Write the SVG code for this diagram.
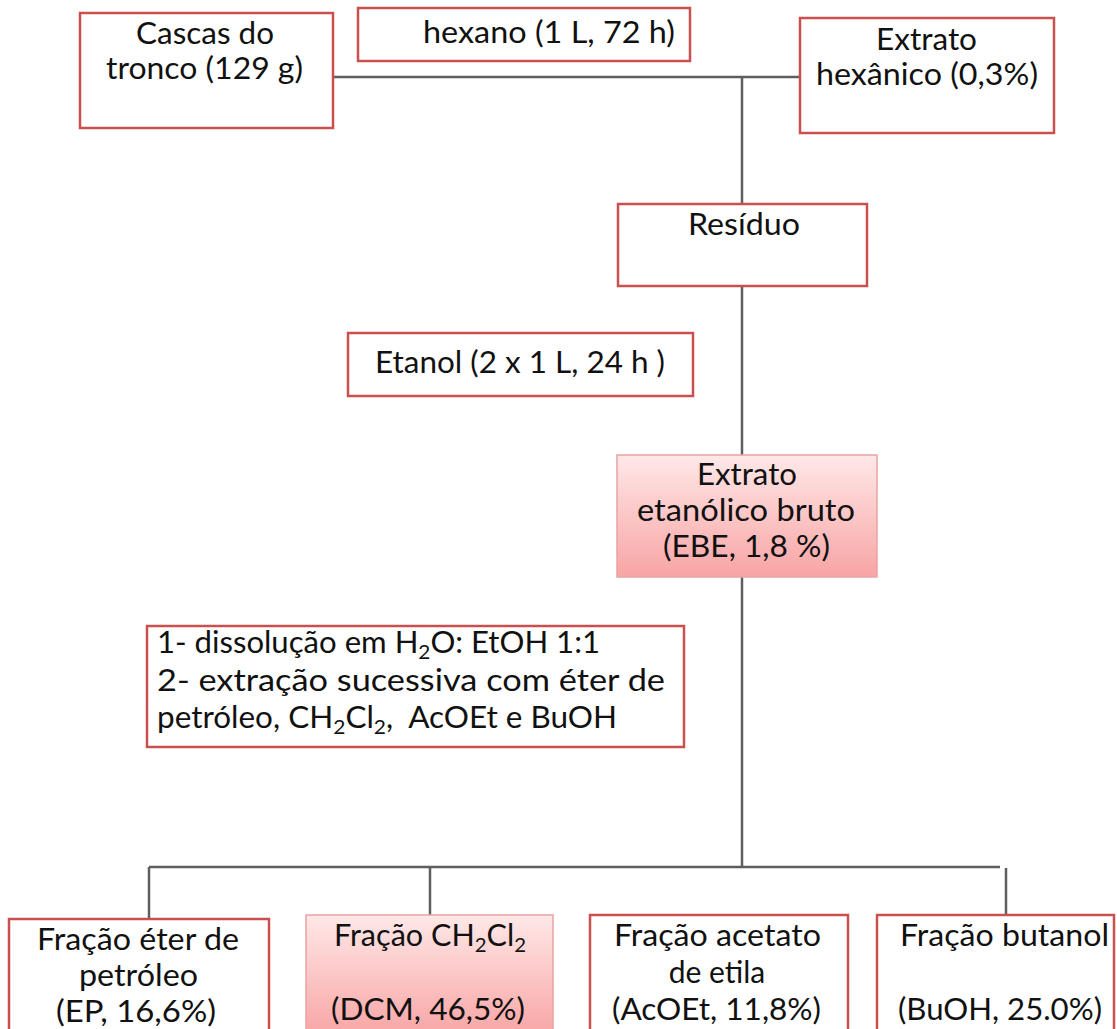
<svg xmlns="http://www.w3.org/2000/svg" width="1117" height="1029" viewBox="0 0 1117 1029">
<style>
.box{fill:#ffffff;stroke:#C9504F;stroke-width:2.5}
.gbox{fill:url(#pink);stroke:#E9A3A3;stroke-width:1.5}
.t{font-family:Lato,"Open Sans","Liberation Sans",sans-serif;font-size:30px;fill:#111111}
.c{stroke:#5E5E5E;stroke-width:2.5;fill:none}
.sub{font-size:20px}
</style>
<defs>
<linearGradient id="pink" x1="0" y1="0" x2="0" y2="1">
<stop offset="0" stop-color="#FFE8E8"/>
<stop offset="1" stop-color="#F8A4A4"/>
</linearGradient>
</defs>
<rect width="1117" height="1029" fill="#ffffff"/>
<g id="connectors">
<line class="c" x1="333" y1="77" x2="800" y2="77"/>
<line class="c" x1="742" y1="77" x2="742" y2="204"/>
<line class="c" x1="742" y1="286" x2="742" y2="455"/>
<line class="c" x1="742" y1="577" x2="742" y2="867"/>
<line class="c" x1="149" y1="867" x2="1000" y2="867"/>
<line class="c" x1="149" y1="867" x2="149" y2="919"/>
<line class="c" x1="430" y1="867" x2="430" y2="915"/>
<line class="c" x1="1006" y1="868" x2="1006" y2="915"/>
</g>
<g id="cascas">
<rect class="box" x="80" y="13" width="253" height="115"/>
<text class="t" x="136" y="44" textLength="138" lengthAdjust="spacingAndGlyphs">Cascas do</text>
<text class="t" x="106" y="79" textLength="197" lengthAdjust="spacingAndGlyphs">tronco (129 g)</text>
</g>
<g id="hexano">
<rect class="box" x="358" y="8" width="332" height="53"/>
<text class="t" x="423" y="43" textLength="252" lengthAdjust="spacingAndGlyphs">hexano (1 L, 72 h)</text>
</g>
<g id="extrato-hexanico">
<rect class="box" x="800" y="18" width="254" height="115"/>
<text class="t" x="876" y="50" textLength="101" lengthAdjust="spacingAndGlyphs">Extrato</text>
<text class="t" x="816" y="85" textLength="222" lengthAdjust="spacingAndGlyphs">hexânico (0,3%)</text>
</g>
<g id="residuo">
<rect class="box" x="618" y="204" width="249" height="82"/>
<text class="t" x="688" y="235" textLength="112" lengthAdjust="spacingAndGlyphs">Resíduo</text>
</g>
<g id="etanol">
<rect class="box" x="348" y="333" width="345" height="63"/>
<text class="t" x="375" y="373" textLength="290" lengthAdjust="spacingAndGlyphs">Etanol (2 x 1 L, 24 h )</text>
</g>
<g id="ebe">
<rect class="gbox" x="617" y="455" width="260" height="122"/>
<text class="t" x="697" y="485" textLength="100" lengthAdjust="spacingAndGlyphs">Extrato</text>
<text class="t" x="637" y="521" textLength="218" lengthAdjust="spacingAndGlyphs">etanólico bruto</text>
<text class="t" x="663" y="557" textLength="167" lengthAdjust="spacingAndGlyphs">(EBE, 1,8 %)</text>
</g>
<g id="particao">
<rect class="box" x="147" y="626" width="537" height="121"/>
<text class="t" x="157" y="653" textLength="443" lengthAdjust="spacingAndGlyphs">1- dissolução em H<tspan class="sub" dy="6">2</tspan><tspan dy="-6">O: EtOH 1:1</tspan></text>
<text class="t" x="157" y="691" textLength="508" lengthAdjust="spacingAndGlyphs">2- extração sucessiva com éter de</text>
<text class="t" x="157" y="728" textLength="460" lengthAdjust="spacingAndGlyphs" style="white-space:pre">petróleo, CH<tspan class="sub" dy="6">2</tspan><tspan dy="-6">Cl</tspan><tspan class="sub" dy="6">2</tspan><tspan dy="-6">,  AcOEt e BuOH</tspan></text>
</g>
<g id="fracao-ep">
<rect class="box" x="9" y="919" width="260" height="118"/>
<text class="t" x="37" y="950" textLength="202" lengthAdjust="spacingAndGlyphs">Fração éter de</text>
<text class="t" x="79" y="986" textLength="119" lengthAdjust="spacingAndGlyphs">petróleo</text>
<text class="t" x="56" y="1022" textLength="160" lengthAdjust="spacingAndGlyphs">(EP, 16,6%)</text>
</g>
<g id="fracao-dcm">
<rect class="gbox" x="306" y="915" width="247" height="122"/>
<text class="t" x="334" y="946" textLength="192" lengthAdjust="spacingAndGlyphs">Fração CH<tspan class="sub" dy="6">2</tspan><tspan dy="-6">Cl</tspan><tspan class="sub" dy="6">2</tspan></text>
<text class="t" x="331" y="1020" textLength="194" lengthAdjust="spacingAndGlyphs">(DCM, 46,5%)</text>
</g>
<g id="fracao-acoet">
<rect class="box" x="590" y="915" width="258" height="122"/>
<text class="t" x="614" y="946" textLength="207" lengthAdjust="spacingAndGlyphs">Fração acetato</text>
<text class="t" x="717" y="983" text-anchor="middle">de etila</text>
<text class="t" x="612" y="1020" textLength="209" lengthAdjust="spacingAndGlyphs">(AcOEt, 11,8%)</text>
</g>
<g id="fracao-buoh">
<rect class="box" x="877" y="915" width="237" height="122"/>
<text class="t" x="900" y="946" textLength="209" lengthAdjust="spacingAndGlyphs">Fração butanol</text>
<text class="t" x="898" y="1020" textLength="204" lengthAdjust="spacingAndGlyphs">(BuOH, 25.0%)</text>
</g>
</svg>
